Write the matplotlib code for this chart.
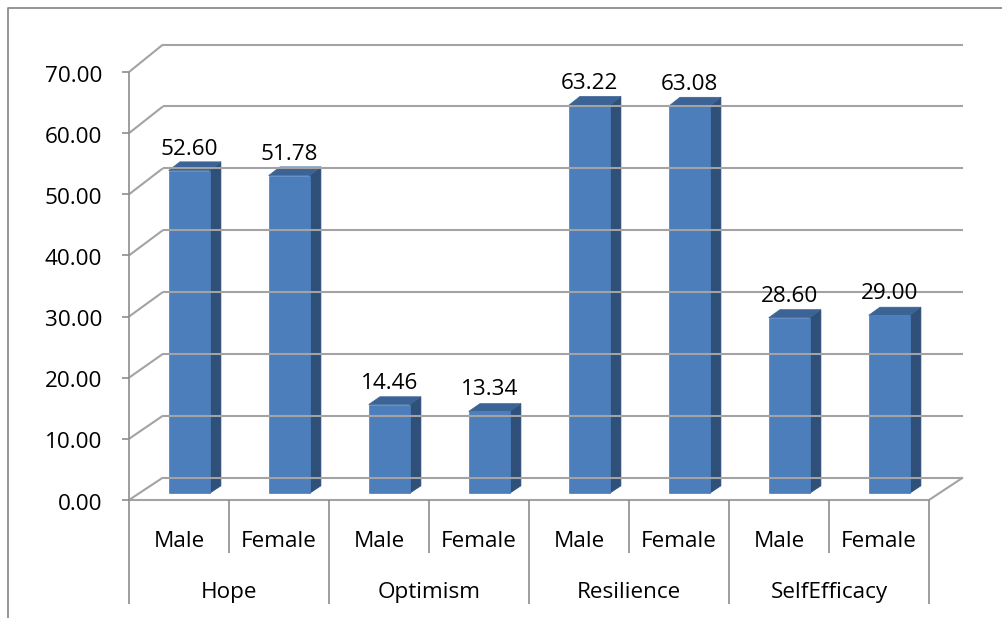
import matplotlib
matplotlib.use("Agg")
import matplotlib.pyplot as plt
from matplotlib.patches import Polygon
import numpy as np

# ---- data ----
groups = ["Hope", "Optimism", "Resilience", "SelfEfficacy"]
genders = ["Male", "Female"]
male_values = [52.60, 14.46, 63.22, 28.60]
female_values = [51.78, 13.34, 63.08, 29.00]
y_ticks = [0, 10, 20, 30, 40, 50, 60, 70]

# ---- styling ----
FONT = ["Open Sans", "DejaVu Sans"]
FS = 16.2
FRONT_C = "#4d7ebc"
SIDE_C = "#2f5079"
TOP_C = "#3b6396"
GRID_C = "#a3a3a3"
AXIS_C = "#8c8c8c"

W, H = 1003, 618
fig = plt.figure(figsize=(W / 100, H / 100), dpi=100)
fig.patch.set_facecolor("white")


def px_rect(left, bottom_img, right, top_img):
    return [left / W, (H - bottom_img) / H, (right - left) / W, (bottom_img - top_img) / H]


# front plane (axis side) and back wall plane of the 3-D box
front = fig.add_axes(px_rect(129, 500, 929, 72))
back = fig.add_axes(px_rect(163, 477.5, 963, 44.5))
n_slots = len(groups) * len(genders)
for a in (front, back):
    a.set_xlim(0, n_slots)
    a.set_ylim(y_ticks[0], y_ticks[-1])
    a.set_axis_off()

canvas = fig.add_axes([0, 0, 1, 1])
canvas.set_xlim(0, W)
canvas.set_ylim(0, H)
canvas.set_axis_off()
canvas.set_zorder(5)
canvas.patch.set_alpha(0)


def to_px(x, v, depth):
    """Map (category position, value) at a given depth (0=front, 1=back) to pixels."""
    p0 = front.transData.transform((x, v))
    p1 = back.transData.transform((x, v))
    return (1 - depth) * p0 + depth * p1


def seg(p, q, **kw):
    canvas.plot([p[0], q[0]], [p[1], q[1]], solid_capstyle="butt", **kw)


def label(x, y, s, ha="center"):
    canvas.text(x, y, s, ha=ha, va="baseline", fontsize=FS, family=FONT, color="black")


# chart area frame
canvas.plot([8.5, 8.5, W], [0, H - 7.5, H - 7.5], color=AXIS_C, lw=1.3)

# back wall gridlines and left side wall diagonals
for v in y_ticks:
    seg(to_px(0, v, 1), to_px(n_slots, v, 1), color=GRID_C, lw=1.5)
    seg(to_px(0, v, 0), to_px(0, v, 1), color=GRID_C, lw=1.5)
# floor edges
seg(to_px(0, 0, 0), to_px(n_slots, 0, 0), color=GRID_C, lw=1.5)
seg(to_px(n_slots, 0, 0), to_px(n_slots, 0, 1), color=GRID_C, lw=1.5)

# value axis line, ticks and labels
seg(to_px(0, y_ticks[0], 0), to_px(0, y_ticks[-1], 0), color=AXIS_C, lw=1.2)
for v in y_ticks:
    p = to_px(0, v, 0)
    seg(p, p - np.array([7, 0]), color=AXIS_C, lw=1.2)
    label(p[0] - 27, p[1] - 9.5, f"{v:.2f}", ha="right")

# category axis: dividers and two-level labels
for k in range(n_slots + 1):
    p = to_px(k, 0, 0)
    length = 104 if k % len(genders) == 0 else 53
    seg(p, p - np.array([0, length]), color=AXIS_C, lw=1.2)

for gi, g in enumerate(groups):
    for si, s in enumerate(genders):
        p = to_px(gi * 2 + si + 0.5, 0, 0)
        label(p[0], p[1] - 47, s)
    p = to_px(gi * 2 + 1, 0, 0)
    label(p[0], p[1] - 98, g)

# 3-D columns
f0, f1 = 0.30, 0.63
half_w = 0.205
values = []
for m, f in zip(male_values, female_values):
    values += [m, f]

for i, v in enumerate(values):
    xc = i + 0.5
    x0, x1 = xc - half_w, xc + half_w
    front_face = [to_px(x0, 0, f0), to_px(x1, 0, f0), to_px(x1, v, f0), to_px(x0, v, f0)]
    side_face = [to_px(x1, 0, f0), to_px(x1, 0, f1), to_px(x1, v, f1), to_px(x1, v, f0)]
    top_face = [to_px(x0, v, f0), to_px(x1, v, f0), to_px(x1, v, f1), to_px(x0, v, f1)]
    canvas.add_patch(Polygon(side_face, closed=True, facecolor=SIDE_C, edgecolor=SIDE_C, lw=0.5))
    canvas.add_patch(Polygon(top_face, closed=True, facecolor=TOP_C, edgecolor=TOP_C, lw=0.5))
    canvas.add_patch(Polygon(front_face, closed=True, facecolor=FRONT_C, edgecolor=FRONT_C, lw=0.5))
    tp = to_px(xc, v, f0)
    label(tp[0], tp[1] + 16, f"{v:.2f}")

fig.savefig("out.png", dpi=100, facecolor="white")
